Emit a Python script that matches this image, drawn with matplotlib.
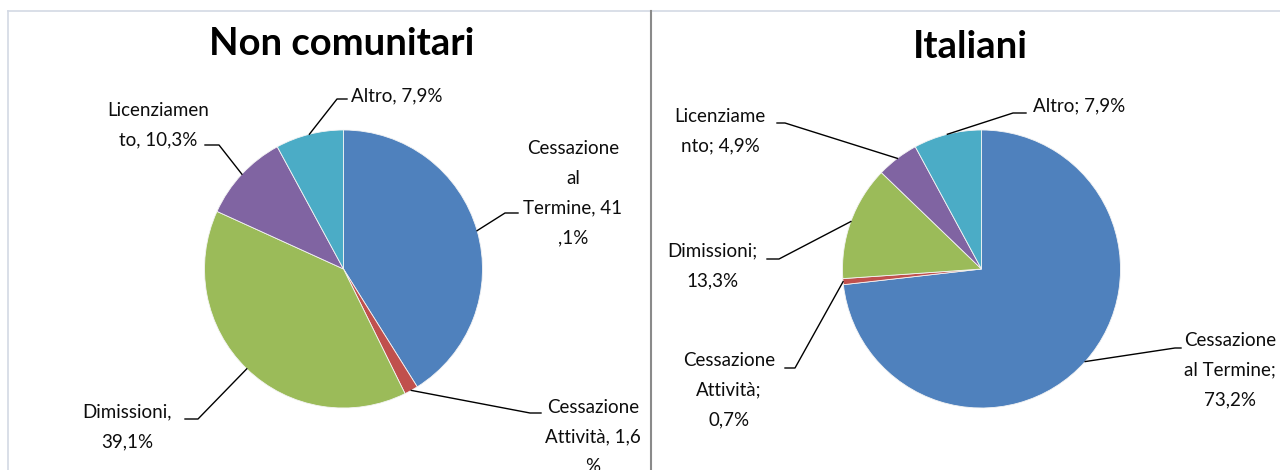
import numpy as np
import matplotlib
matplotlib.use("Agg")
import matplotlib.pyplot as plt

# Motivi di cessazione del rapporto di lavoro (%)
categories = ['Cessazione al Termine', 'Cessazione Attività', 'Dimissioni',
              'Licenziamento', 'Altro']
non_comunitari = [41.1, 1.6, 39.1, 10.3, 7.9]
italiani = [73.2, 0.7, 13.3, 4.9, 7.9]

labels_nc = ['Cessazione\nal\nTermine, 41\n,1%', 'Cessazione\nAttività, 1,6\n%',
             'Dimissioni,\n39,1%', 'Licenziamen\nto, 10,3%', 'Altro, 7,9%']
labels_it = ['Cessazione\nal Termine;\n73,2%', 'Cessazione\nAttività;\n0,7%',
             'Dimissioni;\n13,3%', 'Licenziame\nnto; 4,9%', 'Altro; 7,9%']

colors = ['#4F81BD', '#C0504D', '#9BBB59', '#8064A2', '#4BACC6']

W, H = 1280, 470
plt.rcParams['font.family'] = ['Lato', 'DejaVu Sans']

fig = plt.figure(figsize=(W / 100, H / 100), dpi=100)
ax = fig.add_axes([0, 0, 1, 1])


def draw_pie(values, labels, center, radius, title, title_pos, text_pos, elbows):
    cx, cy = center
    wedges, _ = ax.pie(values, center=(cx, H - cy), radius=radius, startangle=90,
                       counterclock=False, colors=colors,
                       wedgeprops=dict(edgecolor='#f4f4f4', linewidth=0.6))
    ax.text(title_pos[0], H - title_pos[1], title, ha='center', va='center',
            fontsize=27.5, fontweight='bold', color='black')
    for w, lab, tp, (el, end) in zip(wedges, labels, text_pos, elbows):
        mid = np.deg2rad((w.theta1 + w.theta2) / 2)
        x0 = cx + radius * np.cos(mid)
        y0 = H - cy + radius * np.sin(mid)
        ax.plot([x0, el[0], end[0]], [y0, H - el[1], H - end[1]],
                color='black', lw=1.0)
        ax.text(tp[0], H - tp[1], lab, ha='center', va='center', fontsize=13.5,
                color='#0d0d0d', linespacing=1.9, multialignment='center')


draw_pie(non_comunitari, labels_nc, (343.5, 269), 139, 'Non comunitari', (342, 44),
         [(573, 193), (593, 437), (127, 427), (158, 125), (397, 96)],
         [((505, 213), (518, 213)), ((530, 413), (541, 413)),
          ((198, 419), (185, 419)), ((219, 145), (205, 145)),
          ((337, 99), (347, 99))])

draw_pie(italiani, labels_it, (981.5, 269), 139, 'Italiani', (970, 47),
         [(1230, 370), (729, 390), (712, 266), (720, 131), (1079, 106)],
         [((1175, 348), (1181, 348)), ((795, 368), (785, 368)),
          ((779, 259), (767, 259)), ((785, 123), (777, 123)),
          ((1013, 113), (1026, 113))])

# panel borders
ax.plot([8, W], [H - 11, H - 11], color='#d3d9e4', lw=1.2)
ax.plot([8, 8], [0, H - 11], color='#d3d9e4', lw=1.2)
ax.plot([651, 651], [0, H - 11], color='#8a8a8a', lw=1.5)

ax.set_xlim(0, W)
ax.set_ylim(0, H)
ax.set_aspect('equal')
ax.axis('off')

fig.savefig('out.png', dpi=100, facecolor='white')
